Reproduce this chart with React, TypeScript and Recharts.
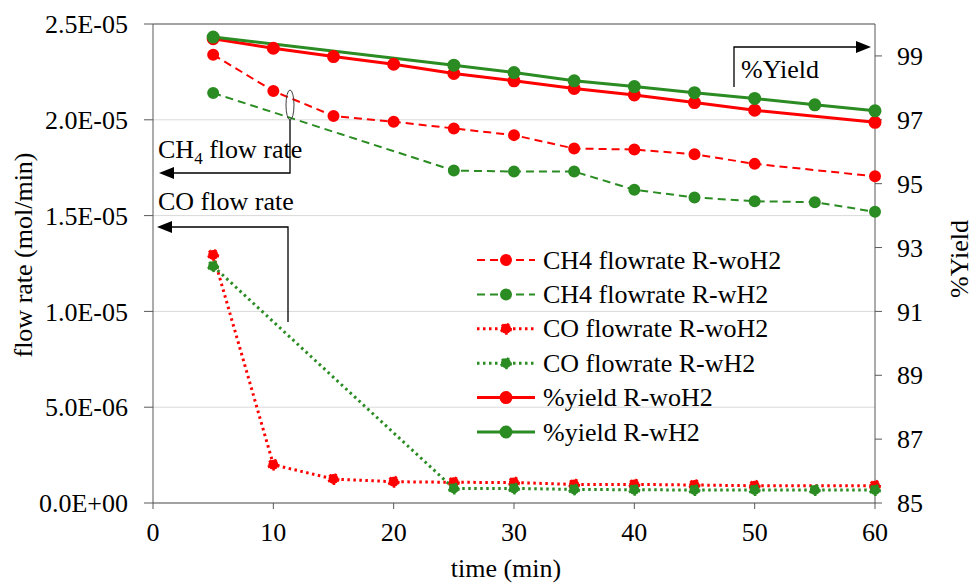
import React from 'react';
import { LineChart, Line, XAxis, YAxis, CartesianGrid, ReferenceLine } from 'recharts';

// time (min)
const time = [5, 10, 15, 20, 25, 30, 35, 40, 45, 50, 55, 60];

// flow rates (mol/min), left axis
const ch4WoH2 = [2.34e-5, 2.15e-5, 2.02e-5, 1.99e-5, 1.955e-5, 1.92e-5, 1.85e-5, 1.845e-5, 1.82e-5, 1.77e-5, null, 1.705e-5];
const ch4WH2 = [2.14e-5, null, null, null, 1.735e-5, 1.73e-5, 1.73e-5, 1.635e-5, 1.595e-5, 1.575e-5, 1.57e-5, 1.52e-5];
const coWoH2 = [1.295e-5, 2.0e-6, 1.25e-6, 1.11e-6, 1.08e-6, 1.07e-6, 9.7e-7, 9.7e-7, 9.4e-7, 9.0e-7, null, 9.0e-7];
const coWH2 = [1.236e-5, null, null, null, 7.6e-7, 7.6e-7, 7.1e-7, 6.9e-7, 6.8e-7, 6.8e-7, 6.8e-7, 6.8e-7];

// %yield, right axis
const yieldWoH2 = [99.54, 99.24, 98.98, 98.74, 98.45, 98.22, 97.98, 97.78, 97.54, 97.3, null, 96.92];
const yieldWH2 = [99.59, null, null, null, 98.71, 98.48, 98.22, 98.04, 97.85, 97.67, 97.47, 97.28];

const xTicks = [0, 10, 20, 30, 40, 50, 60];
const leftTicks = [0, 5e-6, 1e-5, 1.5e-5, 2e-5, 2.5e-5];
const rightTicks = [85, 87, 89, 91, 93, 95, 97, 99];

const RED = '#ff0000';
const GREEN = '#2a8c22';
const FONT = '"Liberation Serif", "Times New Roman", serif';
const AXIS = '#595959';

const rows = time.map((t, i) => ({
  t,
  ch4WoH2: ch4WoH2[i],
  ch4WH2: ch4WH2[i],
  coWoH2: coWoH2[i],
  coWH2: coWH2[i],
  yieldWoH2: yieldWoH2[i],
  yieldWH2: yieldWH2[i],
}));

const series = [
  { key: 'ch4WoH2', name: 'CH4 flowrate R-woH2', color: RED, dash: '8 5', width: 2, r: 5, axis: 'left' },
  { key: 'ch4WH2', name: 'CH4 flowrate R-wH2', color: GREEN, dash: '8 5', width: 2, r: 5, axis: 'left' },
  { key: 'coWoH2', name: 'CO flowrate R-woH2', color: RED, dash: '2.5 3.5', width: 3, r: 5, axis: 'left' },
  { key: 'coWH2', name: 'CO flowrate R-wH2', color: GREEN, dash: '2.5 3.5', width: 3, r: 5, axis: 'left' },
  { key: 'yieldWoH2', name: '%yield R-woH2', color: RED, dash: undefined, width: 3, r: 5.5, axis: 'right' },
  { key: 'yieldWH2', name: '%yield R-wH2', color: GREEN, dash: undefined, width: 3, r: 5.5, axis: 'right' },
];

const sci = (v: number) => {
  const [m, e] = v.toExponential(1).split('e');
  const sign = e[0] === '-' ? '-' : '+';
  const digits = e.replace(/[+-]/, '').padStart(2, '0');
  return `${m}E${sign}${digits}`;
};

const tickStyle = { fontFamily: FONT, fontSize: 26, fill: '#000' };

const Overlay = () => (
  <svg width={972} height={583} style={{ position: 'absolute', left: 0, top: 0, pointerEvents: 'none' }}>
    <g fontSize={26} fill="#000">
      {/* axis titles */}
      <text x={0} y={0} transform="translate(23,255) rotate(-90)" textAnchor="middle" dominantBaseline="central">flow rate (mol/min)</text>
      <text x={0} y={0} transform="translate(959,259) rotate(-90)" textAnchor="middle" dominantBaseline="central">%Yield</text>
      <text x={506} y={577} textAnchor="middle">time (min)</text>

      {/* CH4 annotation */}
      <ellipse cx={290} cy={105} rx={4} ry={15} fill="none" stroke="#404040" strokeWidth={1} />
      <polyline points="290,120 290,173 172,173" fill="none" stroke="#000" strokeWidth={1.3} />
      <polygon points="159,173 174,167 174,179" fill="#000" />
      <text x={158} y={158}>CH<tspan fontSize={17} dy={6}>4</tspan><tspan dy={-6}> flow rate</tspan></text>

      {/* CO annotation */}
      <polyline points="288,322 288,227 170,227" fill="none" stroke="#000" strokeWidth={1.3} />
      <polygon points="157,227 172,221 172,233" fill="#000" />
      <text x={158} y={210}>CO flow rate</text>

      {/* %Yield annotation */}
      <polyline points="734,87 734,47 858,47" fill="none" stroke="#000" strokeWidth={1.3} />
      <polygon points="871,47 856,41 856,53" fill="#000" />
      <text x={741} y={78}>%Yield</text>

      {/* legend */}
      {series.map((s, i) => {
        const y = 260 + i * 34.4;
        return (
          <g key={s.key}>
            <line x1={477} x2={535} y1={y} y2={y} stroke={s.color} strokeWidth={s.width} strokeDasharray={s.dash} />
            <circle cx={506} cy={y} r={s.r} fill={s.color} stroke={s.color} strokeWidth={2} strokeDasharray={s.dash && s.width === 3 ? s.dash : undefined} />
            <text x={543} y={y} dominantBaseline="central">{s.name}</text>
          </g>
        );
      })}
    </g>
  </svg>
);

export default function App() {
  return (
    <div style={{ position: 'absolute', left: 0, top: 0, width: 972, height: 583, background: '#fff' }}>
      <style>{`svg text, svg tspan { font-family: ${FONT} !important; }`}</style>
      <LineChart width={972} height={583} data={rows} margin={{ top: 24, right: 0, bottom: 0, left: 0 }}>
        <CartesianGrid vertical={false} stroke="#d9d9d9" yAxisId="left" />
        <XAxis
          dataKey="t"
          type="number"
          domain={[0, 60]}
          ticks={xTicks}
          height={80}
          stroke={AXIS}
          tickSize={6}
          tickMargin={14}
          tick={tickStyle}
        />
        <YAxis
          yAxisId="left"
          domain={[0, 2.5e-5]}
          ticks={leftTicks}
          width={153}
          stroke={AXIS}
          tickSize={9}
          tickMargin={16}
          tickFormatter={sci}
          tick={tickStyle}
          interval={0}
        />
        <YAxis
          yAxisId="right"
          orientation="right"
          domain={[85, 100]}
          ticks={rightTicks}
          width={97}
          stroke={AXIS}
          tickSize={7}
          tickMargin={15}
          tick={tickStyle}
          interval={0}
        />
        <ReferenceLine yAxisId="left" y={2.5e-5} stroke={AXIS} />
        {series.map((s) => (
          <Line
            key={s.key}
            yAxisId={s.axis}
            dataKey={s.key}
            name={s.name}
            type="linear"
            stroke={s.color}
            strokeWidth={s.width}
            strokeDasharray={s.dash}
            connectNulls
            dot={{ r: s.r, fill: s.color, stroke: s.color, strokeWidth: 2, strokeDasharray: s.dash && s.width === 3 ? s.dash : undefined }}
            activeDot={false}
            isAnimationActive={false}
          />
        ))}
      </LineChart>
      <Overlay />
    </div>
  );
}
